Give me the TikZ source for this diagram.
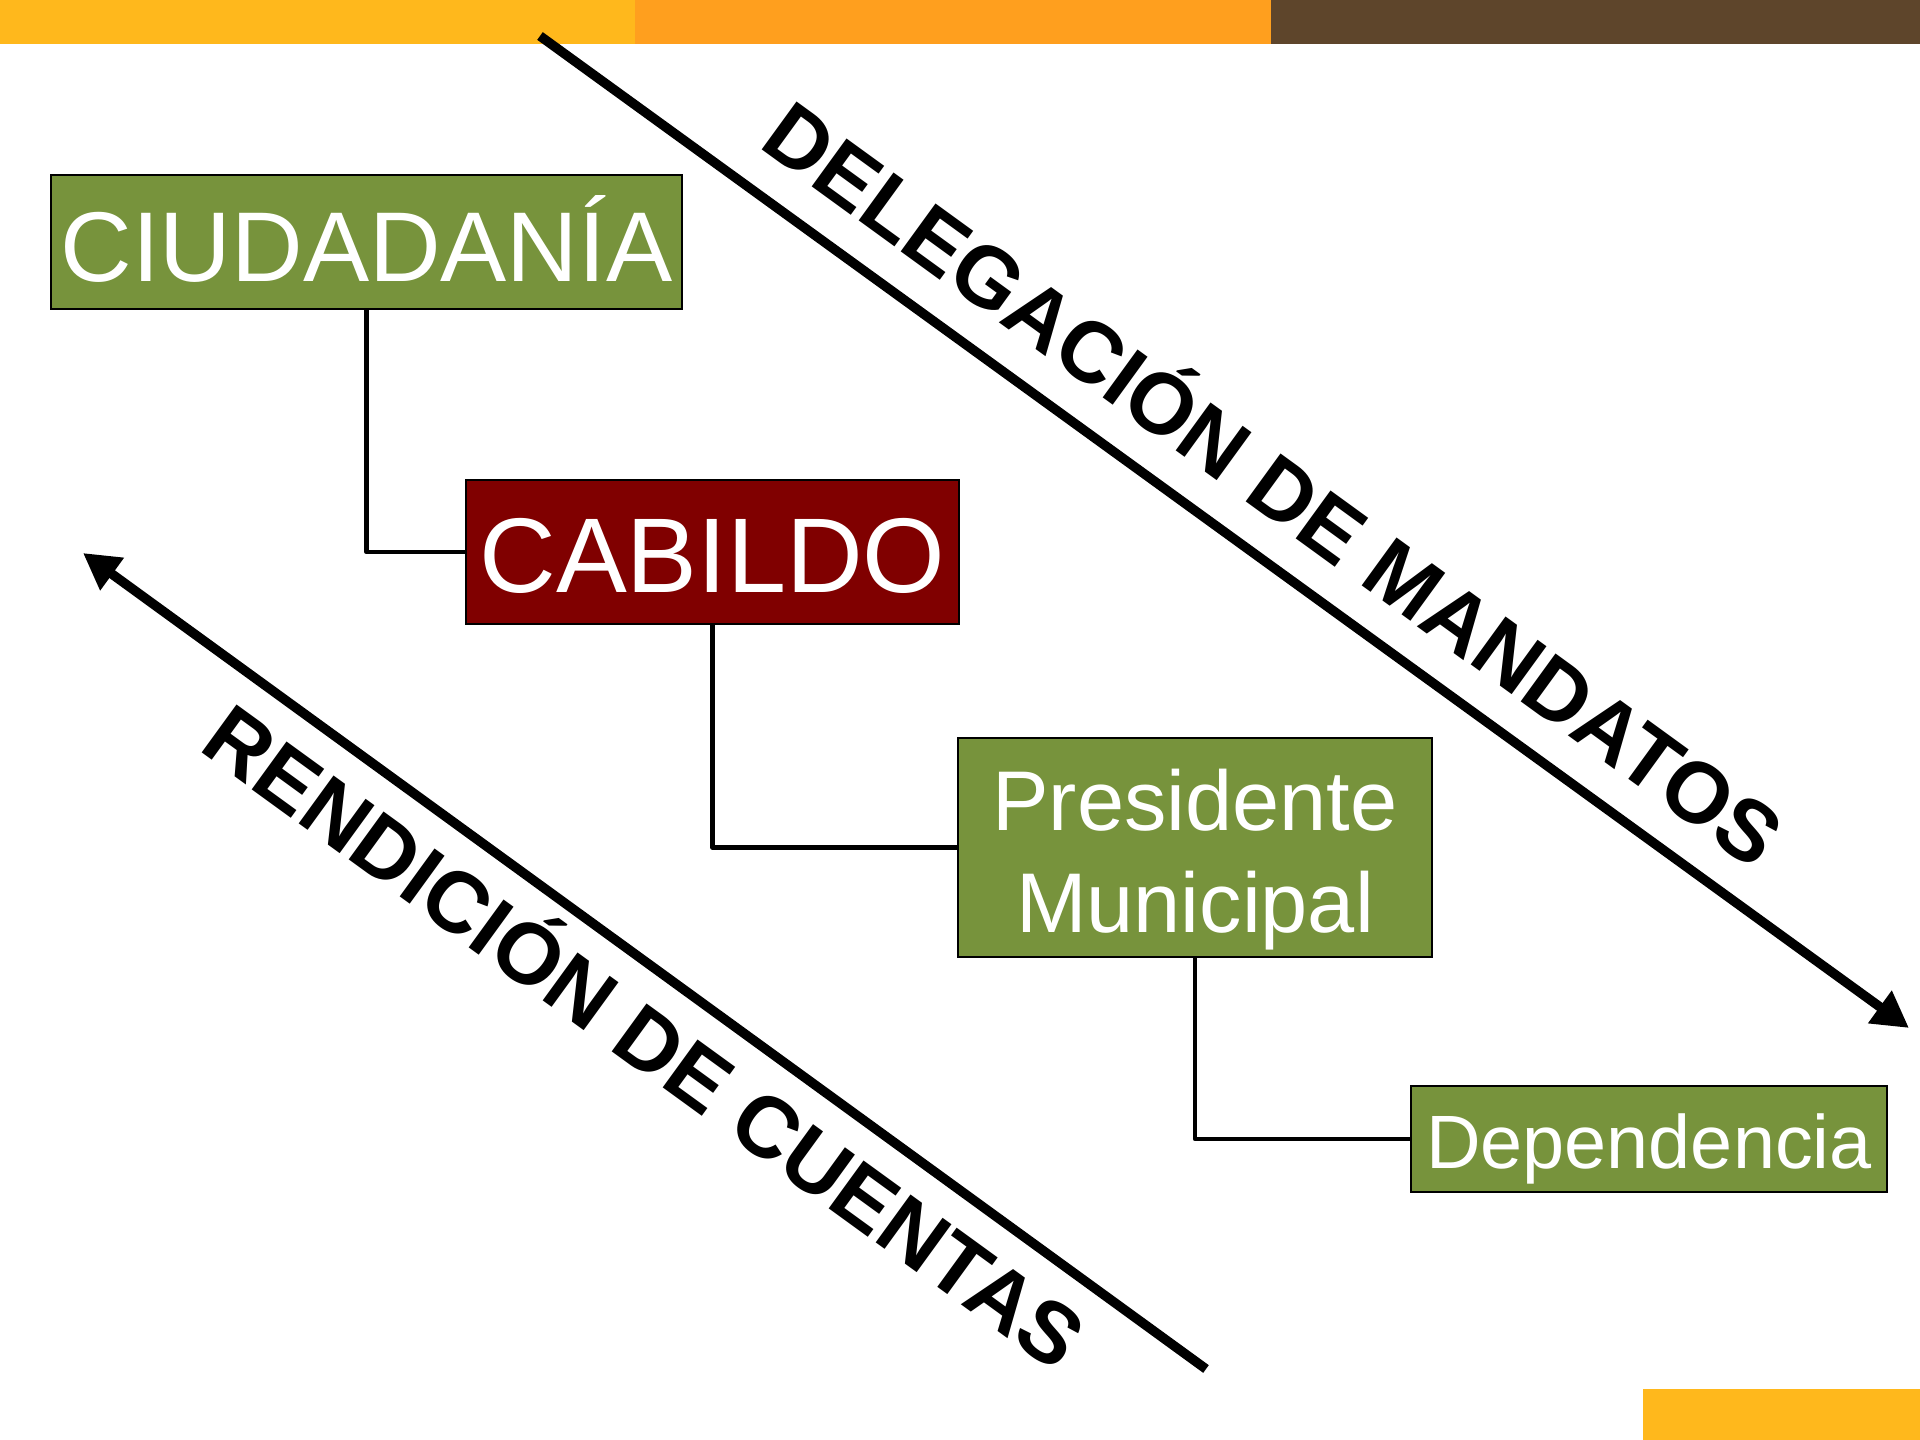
\documentclass[tikz,border=0pt]{standalone}
\usepackage{fontspec}
\setmainfont{Liberation Sans}
\usetikzlibrary{arrows.meta}
\definecolor{barY}{HTML}{FFB81C}
\definecolor{barO}{HTML}{FF9F1E}
\definecolor{barB}{HTML}{5E452B}
\definecolor{boxG}{HTML}{77933C}
\definecolor{boxR}{HTML}{800000}
\begin{document}
\begin{tikzpicture}[x=0.01cm,y=-0.01cm,
  box/.style={draw=black, line width=0.02cm, inner sep=0pt, text=white, align=center},
  conn/.style={draw=black, line width=0.045cm, line join=round},
  bigarrow/.style={line width=0.095cm, -{Triangle[length=0.36cm,width=0.38cm]}},
  lbl/.style={inner sep=0pt, font=\fontsize{24.5pt}{29pt}\selectfont\bfseries, rotate=-36, anchor=base west}]
\useasboundingbox (0,0) rectangle (1920,1440);
\fill[white] (0,0) rectangle (1920,1440);
\fill[barY] (0,0) rectangle (635,44);
\fill[barO] (635,0) rectangle (1271,44);
\fill[barB] (1271,0) rectangle (1920,44);
\fill[barY] (1643,1389) rectangle (1920,1440);

% arrows
\coordinate (d1) at (540,36);
\coordinate (d2) at (1909,1028);
\draw[bigarrow] (d1) -- (d2);
\coordinate (r1) at (1206,1369);
\coordinate (r2) at (83,553);
\draw[bigarrow] (r1) -- (r2);

\node[lbl] (deleg) at (757,146.5) {DELEGACIÓN DE MANDATOS};
\node[lbl] (rend) at (197,749.5) {RENDICIÓN DE CUENTAS};

% boxes
\node[box, fill=boxG, minimum width=6.31cm, minimum height=1.34cm, text height=0.78cm, text depth=0pt,
  font=\fontsize{28.2pt}{34pt}\selectfont] (ciud) at (366.5,242) {CIUDADANÍA};
\node[box, fill=boxR, minimum width=4.93cm, minimum height=1.44cm, text height=0.81cm, text depth=0pt,
  font=\fontsize{30.2pt}{36pt}\selectfont] (cab) at (712.5,552) {CABILDO};
\node[box, fill=boxG, minimum width=4.74cm, minimum height=2.19cm, text height=1.69cm, text depth=0pt,
  font=\fontsize{24.1pt}{29pt}\selectfont] (pres) at (1195,847.5) {Presidente\\Municipal};
\node[box, fill=boxG, minimum width=4.76cm, minimum height=1.06cm, text height=0.58cm, text depth=0pt,
  font=\fontsize{21.5pt}{26pt}\selectfont] (dep) at (1649,1139) {Dependencia};

% connectors
\draw[conn] (ciud.south) |- (cab.west);
\draw[conn] (cab.south) |- (pres.west);
\draw[conn] (pres.south) |- (dep.west);
\end{tikzpicture}
\end{document}
